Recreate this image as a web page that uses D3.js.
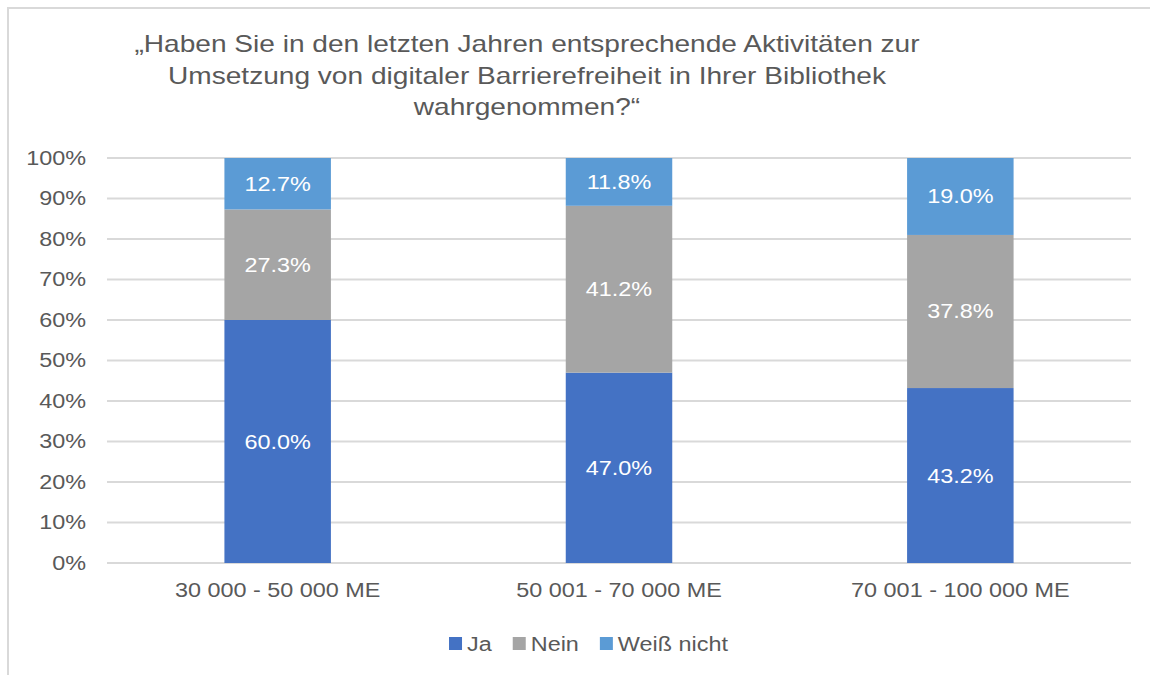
<!DOCTYPE html>
<html>
<head>
<meta charset="utf-8">
<script src="https://cdn.jsdelivr.net/npm/d3@7"></script>
<style>
  html, body { margin: 0; padding: 0; background: #fff; }
  svg { display: block; font-family: "Liberation Sans", Arial, sans-serif; }
</style>
</head>
<body>
<svg id="chart" width="1150" height="675"></svg>
<script>
const titleLines = ["„Haben Sie in den letzten Jahren entsprechende Aktivitäten zur",
                    "Umsetzung von digitaler Barrierefreiheit in Ihrer Bibliothek",
                    "wahrgenommen?“"];
const categories = ["30 000 - 50 000 ME", "50 001 - 70 000 ME", "70 001 - 100 000 ME"];
const seriesNames = ["Ja", "Nein", "Weiß nicht"];
const ja = [60.0, 47.0, 43.2];
const nein = [27.3, 41.2, 37.8];
const weiss = [12.7, 11.8, 19.0];
const yTicks = [0, 10, 20, 30, 40, 50, 60, 70, 80, 90, 100];
const colors = ["#4472C4", "#A5A5A5", "#5B9BD5"];

const svg = d3.select("#chart");
const textColor = "#595959";
const stretch = 1.17;
function widen(sel) {
  sel.each(function() {
    const w = this.getComputedTextLength();
    this.__w = w * stretch;
    d3.select(this).attr("textLength", w * stretch).attr("lengthAdjust", "spacingAndGlyphs");
  });
}

// chart border
svg.append("path")
  .attr("d", "M8,675 L8,8 L1150,8")
  .attr("fill", "none").attr("stroke", "#d9d9d9").attr("stroke-width", 2);

// title
svg.append("g").selectAll("text").data(titleLines).join("text")
  .attr("x", 527).attr("y", (d, i) => 52 + i * 31.5)
  .attr("text-anchor", "middle")
  .attr("font-size", 24).attr("fill", textColor)
  .text(d => d)
  .call(widen);

const x = d3.scaleBand().domain(categories).range([107, 1131])
  .paddingInner(0.688).paddingOuter(0.344);
const y = d3.scaleLinear().domain([0, 100]).range([563, 158]);

// gridlines
svg.append("g").selectAll("line").data(yTicks).join("line")
  .attr("x1", 107).attr("x2", 1131)
  .attr("y1", d => y(d)).attr("y2", d => y(d))
  .attr("stroke", "#d9d9d9").attr("stroke-width", 2);

// y axis labels
const yAxis = svg.append("g").attr("transform", "translate(86,0)")
  .call(d3.axisLeft(y).tickValues(yTicks).tickFormat(d => d + "%").tickSize(0).tickPadding(0));
yAxis.select(".domain").remove();
yAxis.selectAll("text").attr("font-size", 20).attr("fill", textColor)
  .attr("font-family", "Liberation Sans, Arial, sans-serif").call(widen);

// x axis labels
const xAxis = svg.append("g").attr("transform", "translate(0,563)")
  .call(d3.axisBottom(x).tickSize(0).tickPadding(20));
xAxis.select(".domain").remove();
xAxis.selectAll("text").attr("font-size", 20).attr("fill", textColor)
  .attr("font-family", "Liberation Sans, Arial, sans-serif").call(widen);

// stacked data
const rows = categories.map((c, i) => ({cat: c, "Ja": ja[i], "Nein": nein[i], "Weiß nicht": weiss[i]}));
const stack = d3.stack().keys(seriesNames)(rows);

const groups = svg.append("g").selectAll("g").data(stack).join("g")
  .attr("fill", (d, i) => colors[i]);
groups.selectAll("rect").data(d => d).join("rect")
  .attr("x", d => x(d.data.cat))
  .attr("width", x.bandwidth())
  .attr("y", d => y(d[1]))
  .attr("height", d => y(d[0]) - y(d[1]));

groups.selectAll("text").data(d => d).join("text")
  .attr("x", d => x(d.data.cat) + x.bandwidth() / 2)
  .attr("y", d => (y(d[0]) + y(d[1])) / 2 + 7)
  .attr("text-anchor", "middle")
  .attr("font-size", 20).attr("fill", "#ffffff")
  .text(d => (d[1] - d[0]).toFixed(1) + "%")
  .call(widen);

// legend
const legend = svg.append("g");
const items = legend.selectAll("g").data(seriesNames).join("g");
items.append("rect").attr("width", 13).attr("height", 13).attr("y", 637)
  .attr("fill", (d, i) => colors[i]);
items.append("text").attr("y", 651).attr("font-size", 20).attr("fill", textColor).text(d => d);
const widths = [];
items.each(function() {
  const t = d3.select(this).select("text");
  t.call(widen);
  widths.push(t.node().__w);
});
const total = widths.reduce((a, w) => a + 18 + w, 0) + 21 * (widths.length - 1);
let start = 588.5 - total / 2;
items.each(function(d, i) {
  const g = d3.select(this);
  g.select("rect").attr("x", start);
  g.select("text").attr("x", start + 18);
  start += 18 + widths[i] + 21;
});
</script>
</body>
</html>
